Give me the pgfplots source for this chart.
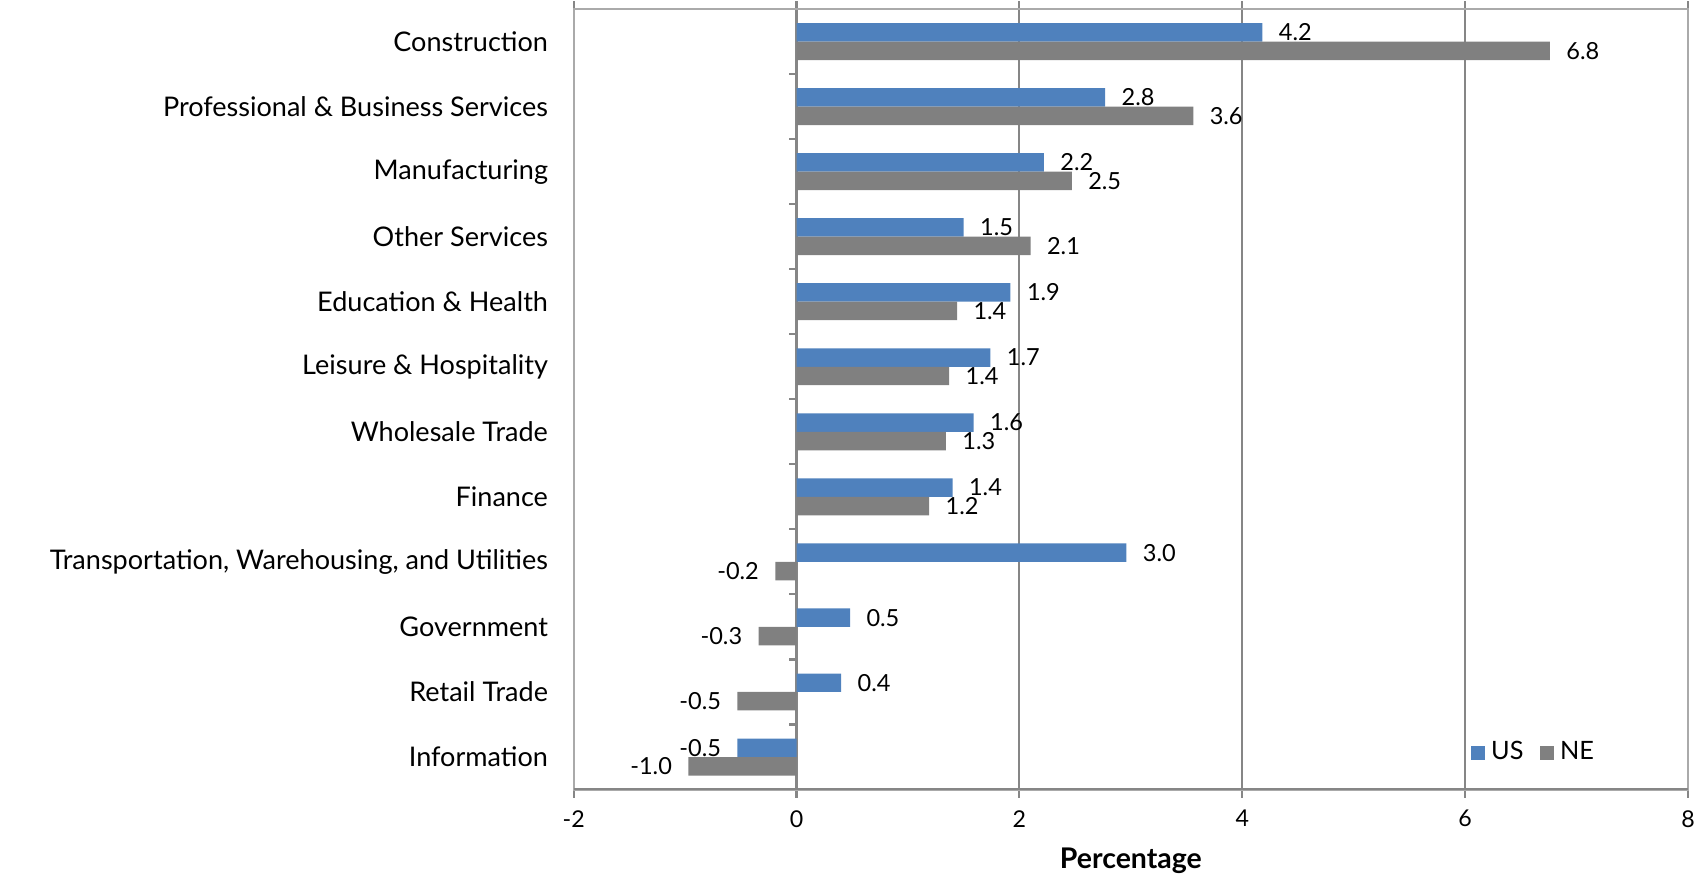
\documentclass[border=0pt]{standalone}
\usepackage{pgfplots}
\pgfplotsset{compat=1.18}
\usepackage{fontspec}
\setmainfont{Lato}
\definecolor{usblue}{RGB}{79,129,189}
\definecolor{negray}{RGB}{128,128,128}
\definecolor{gridgray}{RGB}{134,134,134}
\definecolor{boxgray}{RGB}{170,170,170}

\begin{document}
\begin{tikzpicture}
\begin{axis}[
    name=ax,
    xbar,
    scale only axis,
    width=11.15cm, height=7.81cm,
    xmin=-2, xmax=8,
    ymin=-0.5, ymax=11.5,
    bar width=0.185cm,
    xtick={-2,0,...,8},
    ytick={0,...,11},
    yticklabels={Information, Retail Trade, Government,
        {Transportation, Warehousing, and Utilities}, Finance,
        Wholesale Trade, Leisure \& Hospitality, Education \& Health,
        Other Services, Manufacturing, Professional \& Business Services,
        Construction},
    /pgf/number format/assume math mode=true,
    axis line style={boxgray, line width=0.6pt},
    xmajorgrids=true,
    grid style={gridgray, line width=0.6pt},
    tick align=outside,
    major tick length=0.08cm,
    xtick style={gridgray, line width=0.6pt},
    ytick style={draw=none},
    xticklabel style={font=\fontsize{6.6}{8}\selectfont, inner sep=0pt, yshift=-0.12cm},
    yticklabel style={font=\fontsize{7.7}{9}\selectfont, inner sep=0pt, xshift=-0.17cm},
    xlabel={\textbf{Percentage}},
    xlabel style={font=\fontsize{8.1}{9}\selectfont, at={(rel axis cs:0.5,0)}, anchor=center, yshift=-0.71cm},
    point meta=x,
    nodes near coords={\pgfmathprintnumber[fixed, fixed zerofill, precision=1]{\pgfplotspointmeta}},
    nodes near coords style={font=\fontsize{6.7}{8}\selectfont, inner ysep=0pt, inner xsep=4.5pt, black},
    legend columns=2,
    legend style={draw=none, fill=none, at={(0.922,0.047)}, anchor=east,
        font=\fontsize{7.2}{8}\selectfont, inner sep=0pt,
        nodes={inner xsep=1.8pt, inner ysep=1pt},
        /tikz/every even column/.append style={column sep=0.1cm}},
    legend image code/.code={\fill[#1] (0cm,-0.07cm) rectangle (0.14cm,0.07cm);},
]
\addplot[fill=usblue, draw=none, bar shift=0.0925cm] coordinates {
    (-0.53,0) (0.40,1) (0.48,2) (2.96,3) (1.40,4) (1.59,5)
    (1.74,6) (1.92,7) (1.50,8) (2.22,9) (2.77,10) (4.18,11)
};
\addplot[fill=negray, draw=none, bar shift=-0.0925cm] coordinates {
    (-0.97,0) (-0.53,1) (-0.34,2) (-0.19,3) (1.19,4) (1.34,5)
    (1.37,6) (1.44,7) (2.10,8) (2.47,9) (3.56,10) (6.76,11)
};
\legend{US, NE}
% zero axis tick marks between categories, and darker bottom line
\pgfplotsinvokeforeach{0.5,1.5,...,10.5}{
    \draw[gridgray, line width=0.6pt] (axis cs:0,#1) -- ([xshift=-0.08cm]axis cs:0,#1);
}
\draw[gridgray, line width=0.8pt] (rel axis cs:0,0) -- (rel axis cs:1,0);
\end{axis}
\pgfresetboundingbox
\path[use as bounding box] ([xshift=-5.74cm, yshift=-0.87cm]ax.south west)
    rectangle ([xshift=0.19cm, yshift=0.09cm]ax.north east);
\end{tikzpicture}
\end{document}
